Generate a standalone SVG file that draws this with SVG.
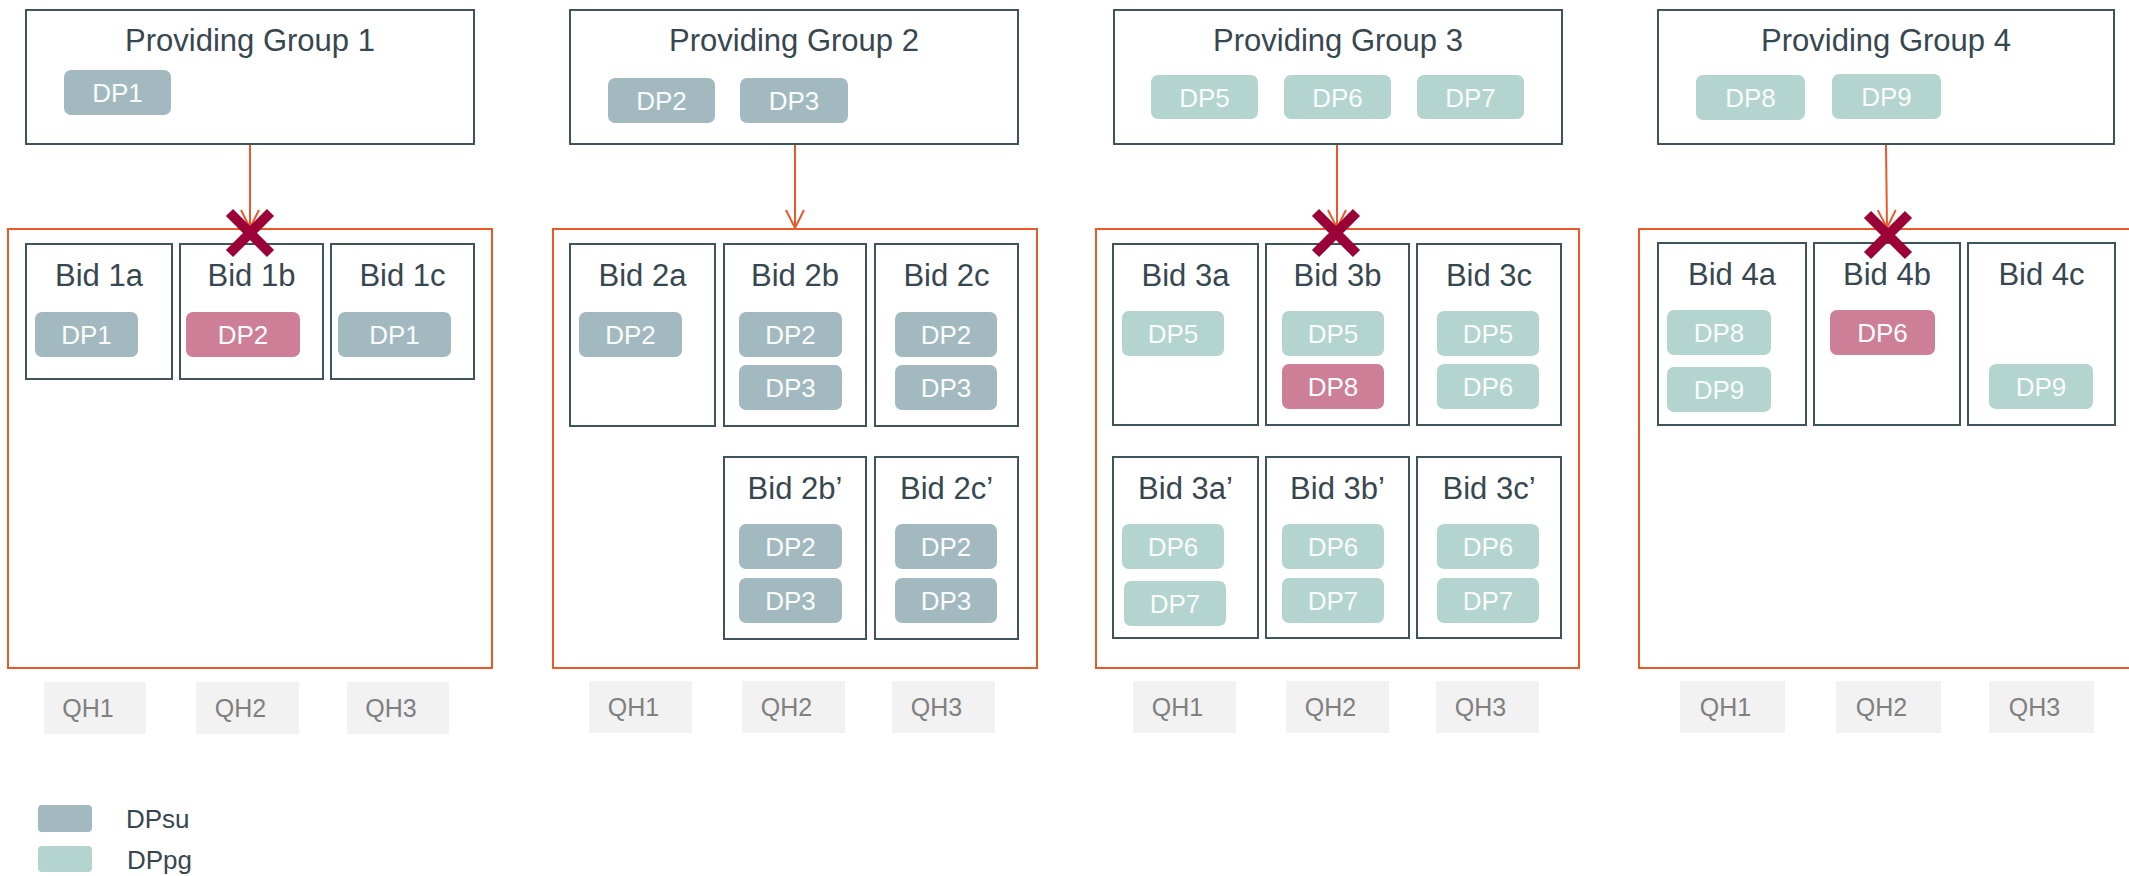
<svg xmlns="http://www.w3.org/2000/svg" width="2129" height="876" viewBox="0 0 2129 876">
<style>
text{font-family:"Liberation Sans",Arial,sans-serif}
.box{fill:#fff;stroke:#3f535a;stroke-width:2}
.cont{fill:none;stroke:#e95a2a;stroke-width:2}
.t{font-size:31px;fill:#37474f;text-anchor:middle}
.su{fill:#a3b9c0}
.pg{fill:#b3d4cf}
.bad{fill:#cc7f97}
.dp{font-size:26px;fill:#fafcfc;text-anchor:middle}
.qh{fill:#f2f2f2}
.qt{font-size:25px;fill:#808080;text-anchor:middle}
.lg{font-size:26px;fill:#37474f}
.arr{stroke:#e95a2a;stroke-width:2;fill:none;marker-end:url(#ah)}
.x{stroke:#9b0036;stroke-width:10;stroke-linecap:butt}
</style>
<defs>
<marker id="ah" markerUnits="userSpaceOnUse" markerWidth="22" markerHeight="22" refX="19" refY="10" orient="auto">
<path d="M1,1 L19,10 L1,19" fill="none" stroke="#e95a2a" stroke-width="2"/>
</marker>
</defs>

<!-- Group 1 -->
<g id="pg1"><rect class="box" x="26" y="10" width="448" height="134"/><text class="t" x="250" y="51">Providing Group 1</text>
<rect class="su" x="64" y="70" width="107" height="45" rx="7"/><text class="dp" x="117.5" y="102">DP1</text></g>
<g id="cont1"><rect class="cont" x="8" y="229" width="484" height="439"/></g>
<g id="bid1a"><rect class="box" x="26" y="244" width="146" height="135"/><text class="t" x="99" y="286">Bid 1a</text>
<rect class="su" x="35" y="312" width="103" height="45" rx="7"/><text class="dp" x="86.5" y="344">DP1</text></g>
<g id="bid1b"><rect class="box" x="180" y="244" width="143" height="135"/><text class="t" x="251.5" y="286">Bid 1b</text>
<rect class="bad" x="186" y="312" width="114" height="45" rx="7"/><text class="dp" x="243" y="344">DP2</text></g>
<g id="bid1c"><rect class="box" x="331" y="244" width="143" height="135"/><text class="t" x="402.5" y="286">Bid 1c</text>
<rect class="su" x="338" y="312" width="113" height="45" rx="7"/><text class="dp" x="394.5" y="344">DP1</text></g>
<g id="qh1">
<rect class="qh" x="44" y="682" width="102" height="52"/><text class="qt" x="88" y="717">QH1</text>
<rect class="qh" x="196" y="682" width="103" height="52"/><text class="qt" x="240.5" y="717">QH2</text>
<rect class="qh" x="347" y="682" width="102" height="52"/><text class="qt" x="391" y="717">QH3</text></g>

<!-- Group 2 -->
<g id="pg2"><rect class="box" x="570" y="10" width="448" height="134"/><text class="t" x="794" y="51">Providing Group 2</text>
<rect class="su" x="608" y="78" width="107" height="45" rx="7"/><text class="dp" x="661.5" y="110">DP2</text>
<rect class="su" x="740" y="78" width="108" height="45" rx="7"/><text class="dp" x="794" y="110">DP3</text></g>
<g id="cont2"><rect class="cont" x="553" y="229" width="484" height="439"/></g>
<g id="bid2a"><rect class="box" x="570" y="244" width="145" height="182"/><text class="t" x="642.5" y="286">Bid 2a</text>
<rect class="su" x="579" y="312" width="103" height="45" rx="7"/><text class="dp" x="630.5" y="344">DP2</text></g>
<g id="bid2b"><rect class="box" x="724" y="244" width="142" height="182"/><text class="t" x="795" y="286">Bid 2b</text>
<rect class="su" x="739" y="312" width="103" height="45" rx="7"/><text class="dp" x="790.5" y="344">DP2</text>
<rect class="su" x="739" y="365" width="103" height="45" rx="7"/><text class="dp" x="790.5" y="397">DP3</text></g>
<g id="bid2c"><rect class="box" x="875" y="244" width="143" height="182"/><text class="t" x="946.5" y="286">Bid 2c</text>
<rect class="su" x="895" y="312" width="102" height="45" rx="7"/><text class="dp" x="946" y="344">DP2</text>
<rect class="su" x="895" y="365" width="102" height="45" rx="7"/><text class="dp" x="946" y="397">DP3</text></g>
<g id="bid2b2"><rect class="box" x="724" y="457" width="142" height="182"/><text class="t" x="795" y="499">Bid 2b’</text>
<rect class="su" x="739" y="524" width="103" height="45" rx="7"/><text class="dp" x="790.5" y="556">DP2</text>
<rect class="su" x="739" y="578" width="103" height="45" rx="7"/><text class="dp" x="790.5" y="610">DP3</text></g>
<g id="bid2c2"><rect class="box" x="875" y="457" width="143" height="182"/><text class="t" x="946.5" y="499">Bid 2c’</text>
<rect class="su" x="895" y="524" width="102" height="45" rx="7"/><text class="dp" x="946" y="556">DP2</text>
<rect class="su" x="895" y="578" width="102" height="45" rx="7"/><text class="dp" x="946" y="610">DP3</text></g>
<g id="qh2">
<rect class="qh" x="589" y="681" width="103" height="52"/><text class="qt" x="633.5" y="716">QH1</text>
<rect class="qh" x="742" y="681" width="103" height="52"/><text class="qt" x="786.5" y="716">QH2</text>
<rect class="qh" x="892" y="681" width="103" height="52"/><text class="qt" x="936.5" y="716">QH3</text></g>

<!-- Group 3 -->
<g id="pg3"><rect class="box" x="1114" y="10" width="448" height="134"/><text class="t" x="1338" y="51">Providing Group 3</text>
<rect class="pg" x="1151" y="75" width="107" height="44" rx="7"/><text class="dp" x="1204.5" y="106.5">DP5</text>
<rect class="pg" x="1284" y="75" width="107" height="44" rx="7"/><text class="dp" x="1337.5" y="106.5">DP6</text>
<rect class="pg" x="1417" y="75" width="107" height="44" rx="7"/><text class="dp" x="1470.5" y="106.5">DP7</text></g>
<g id="cont3"><rect class="cont" x="1096" y="229" width="483" height="439"/></g>
<g id="bid3a"><rect class="box" x="1113" y="244" width="145" height="181"/><text class="t" x="1185.5" y="286">Bid 3a</text>
<rect class="pg" x="1122" y="311" width="102" height="45" rx="7"/><text class="dp" x="1173" y="343">DP5</text></g>
<g id="bid3b"><rect class="box" x="1266" y="244" width="143" height="181"/><text class="t" x="1337.5" y="286">Bid 3b</text>
<rect class="pg" x="1282" y="311" width="102" height="45" rx="7"/><text class="dp" x="1333" y="343">DP5</text>
<rect class="bad" x="1282" y="364" width="102" height="45" rx="7"/><text class="dp" x="1333" y="396">DP8</text></g>
<g id="bid3c"><rect class="box" x="1417" y="244" width="144" height="181"/><text class="t" x="1489" y="286">Bid 3c</text>
<rect class="pg" x="1437" y="311" width="102" height="45" rx="7"/><text class="dp" x="1488" y="343">DP5</text>
<rect class="pg" x="1437" y="364" width="102" height="45" rx="7"/><text class="dp" x="1488" y="396">DP6</text></g>
<g id="bid3a2"><rect class="box" x="1113" y="457" width="145" height="181"/><text class="t" x="1185.5" y="499">Bid 3a’</text>
<rect class="pg" x="1122" y="524" width="102" height="45" rx="7"/><text class="dp" x="1173" y="556">DP6</text>
<rect class="pg" x="1124" y="581" width="102" height="45" rx="7"/><text class="dp" x="1175" y="613">DP7</text></g>
<g id="bid3b2"><rect class="box" x="1266" y="457" width="143" height="181"/><text class="t" x="1337.5" y="499">Bid 3b’</text>
<rect class="pg" x="1282" y="524" width="102" height="45" rx="7"/><text class="dp" x="1333" y="556">DP6</text>
<rect class="pg" x="1282" y="578" width="102" height="45" rx="7"/><text class="dp" x="1333" y="610">DP7</text></g>
<g id="bid3c2"><rect class="box" x="1417" y="457" width="144" height="181"/><text class="t" x="1489" y="499">Bid 3c’</text>
<rect class="pg" x="1437" y="524" width="102" height="45" rx="7"/><text class="dp" x="1488" y="556">DP6</text>
<rect class="pg" x="1437" y="578" width="102" height="45" rx="7"/><text class="dp" x="1488" y="610">DP7</text></g>
<g id="qh3">
<rect class="qh" x="1133" y="681" width="103" height="52"/><text class="qt" x="1177.5" y="716">QH1</text>
<rect class="qh" x="1286" y="681" width="103" height="52"/><text class="qt" x="1330.5" y="716">QH2</text>
<rect class="qh" x="1436" y="681" width="103" height="52"/><text class="qt" x="1480.5" y="716">QH3</text></g>

<!-- Group 4 -->
<g id="pg4"><rect class="box" x="1658" y="10" width="456" height="134"/><text class="t" x="1886" y="51">Providing Group 4</text>
<rect class="pg" x="1696" y="75" width="109" height="45" rx="7"/><text class="dp" x="1750.5" y="107">DP8</text>
<rect class="pg" x="1832" y="74" width="109" height="45" rx="7"/><text class="dp" x="1886.5" y="106">DP9</text></g>
<g id="cont4"><rect class="cont" x="1639" y="229" width="500" height="439"/></g>
<g id="bid4a"><rect class="box" x="1658" y="243" width="148" height="182"/><text class="t" x="1732" y="285">Bid 4a</text>
<rect class="pg" x="1667" y="310" width="104" height="45" rx="7"/><text class="dp" x="1719" y="342">DP8</text>
<rect class="pg" x="1667" y="367" width="104" height="45" rx="7"/><text class="dp" x="1719" y="399">DP9</text></g>
<g id="bid4b"><rect class="box" x="1814" y="243" width="146" height="182"/><text class="t" x="1887" y="285">Bid 4b</text>
<rect class="bad" x="1830" y="310" width="105" height="45" rx="7"/><text class="dp" x="1882.5" y="342">DP6</text></g>
<g id="bid4c"><rect class="box" x="1968" y="243" width="147" height="182"/><text class="t" x="2041.5" y="285">Bid 4c</text>
<rect class="pg" x="1989" y="364" width="104" height="45" rx="7"/><text class="dp" x="2041" y="396">DP9</text></g>
<g id="qh4">
<rect class="qh" x="1680" y="681" width="105" height="52"/><text class="qt" x="1725.5" y="716">QH1</text>
<rect class="qh" x="1836" y="681" width="105" height="52"/><text class="qt" x="1881.5" y="716">QH2</text>
<rect class="qh" x="1989" y="681" width="105" height="52"/><text class="qt" x="2034.5" y="716">QH3</text></g>

<!-- Legend -->
<g id="legend">
<rect class="su" x="38" y="805" width="54" height="27" rx="4"/><text class="lg" x="126" y="828">DPsu</text>
<rect class="pg" x="38" y="846" width="54" height="26" rx="4"/><text class="lg" x="127" y="869">DPpg</text></g>

<!-- Connectors -->
<g id="connectors">
<line class="arr" x1="250" y1="145" x2="250" y2="228"/>
<line class="arr" x1="795" y1="145" x2="795" y2="228"/>
<line class="arr" x1="1337" y1="145" x2="1337" y2="228"/>
<line class="arr" x1="1886" y1="145" x2="1887" y2="228"/>
</g>

<!-- Rejection marks -->
<g id="marks">
<path class="x" d="M229.5,212.5 L270.5,253.5 M270.5,212.5 L229.5,253.5"/>
<path class="x" d="M1315.5,212.5 L1356.5,253.5 M1356.5,212.5 L1315.5,253.5"/>
<path class="x" d="M1867.5,214.5 L1908.5,255.5 M1908.5,214.5 L1867.5,255.5"/>
</g>
</svg>
